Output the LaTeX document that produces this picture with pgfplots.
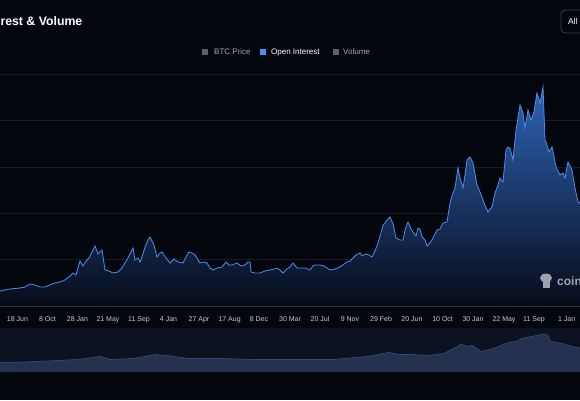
\documentclass[border=0pt]{standalone}
\usepackage{pgfplots}
\pgfplotsset{compat=1.18}
\usepackage{pgfplotstable}
\usepackage{fontspec}
\setmainfont{Liberation Sans}
\definecolor{bgc}{HTML}{04060D}
\definecolor{navbg}{HTML}{0D1220}
\definecolor{gridc}{HTML}{161B27}
\definecolor{axlc}{HTML}{2A2F3B}
\definecolor{linec}{HTML}{4A8FF0}
\definecolor{filltop}{HTML}{2E64B6}
\definecolor{fillbot}{HTML}{060B19}
\definecolor{navfill}{HTML}{24314F}
\definecolor{navline}{HTML}{3A4C74}
\definecolor{tickc}{HTML}{C5CAD3}
\definecolor{legg}{HTML}{5B606B}
\definecolor{legt}{HTML}{A3A9B3}
\definecolor{btn}{HTML}{3A3F4B}
\definecolor{wm}{HTML}{9EA3AD}

\pgfplotstableread{
x y
0 15
5 16
10 17
15 17.5
20 18
25 19
30 22
35 21
40 19
45 19
50 21
55 23
60 24
65 26
70 30
73 33
76 31
78 38
80 45
83 40
86 45
89 48
92 54
95 60
98 52
102 56
105 36
109 35
113 33
118 34
122 38
125 43
129 50
133 58
135 46
138 48
140 44
143 52
145 59
148 66
150 69
152 65
154 61
157 49
160 53
162 54
166 48
170 43
174 47
178 44
183 43
186 49
189 54
192 53
195 51
200 43
204 44
207 43
210 38
213 36
217 38
222 39
226 44
229 41
232 41
237 43
241 40
245 41
248 44
250 44
251 34
255 33
260 33
265 35
270 36
274 37
277 38
280 36
283 33
287 37
290 39
293 43
297 38
301 38
305 38
310 36
313 40
315 41
320 41
324 40
327 38
330 36
335 37
340 39
344 42
347 44
350 45
353 48
356 51
358 52
360 53
362 50
366 52
369 51
372 49
375 55
378 63
381 73
383 81
385 83
387 86
390 89
393 82
396 68
400 66
403 66
405 76
408 84
411 77
413 74
416 70
418 78
420 77
422 69
425 66
427 60
430 63
433 68
437 76
440 77
443 83
447 84
450 103
452 110
455 118
458 138
460 128
463 118
465 131
467 146
470 149
473 143
477 121
480 114
484 103
488 94
492 99
495 113
498 121
500 128
503 124
506 156
508 159
510 158
513 146
516 176
518 188
520 201
523 193
525 178
528 196
531 186
534 194
537 213
540 203
543 219
545 166
546 164
549 154
552 159
556 139
560 131
563 133
565 128
568 144
572 136
575 118
578 104
580 103
}\maindata

% navigator series, in the same units (band from -66 to -22)
\pgfplotstableread{
x y
0 -56.7
33 -55.6
78 -53.5
100 -50.5
111 -53.5
133 -52.5
156 -48.5
167 -49.5
189 -52.5
222 -52.5
256 -53.5
300 -53.5
333 -53.5
367 -50.5
389 -46.5
400 -48.5
411 -48.5
428 -49.5
444 -47.5
456 -41.3
461 -38.3
467 -40.3
472 -39.3
481 -45.5
494 -42.4
506 -37.3
517 -35.2
522 -32.2
533 -30.2
544 -28.1
548 -29.2
550 -35.2
561 -37.3
572 -40.3
580 -42.4
}\navdata

\pgfplotstableread{
x y
0 -66
0 -56.7
33 -55.6
78 -53.5
100 -50.5
111 -53.5
133 -52.5
156 -48.5
167 -49.5
189 -52.5
222 -52.5
256 -53.5
300 -53.5
333 -53.5
367 -50.5
389 -46.5
400 -48.5
411 -48.5
428 -49.5
444 -47.5
456 -41.3
461 -38.3
467 -40.3
472 -39.3
481 -45.5
494 -42.4
506 -37.3
517 -35.2
522 -32.2
533 -30.2
544 -28.1
548 -29.2
550 -35.2
561 -37.3
572 -40.3
580 -42.4
580 -66
}\navarea

\begin{document}
\begin{tikzpicture}[x=1pt,y=1pt]
\useasboundingbox (0,0) rectangle (580,400);
\fill[bgc] (0,0) rectangle (580,400);
\fill[navbg] (0,28) rectangle (580,72);
% title
\node[anchor=base east, text=white, font=\fontsize{12.3}{14}\selectfont\bfseries, inner sep=0] at (82.5,374) {Open Interest \& Volume};
% All button
\draw[btn, rounded corners=4, line width=0.8] (561,367) rectangle (605,390);
\node[anchor=base west, inner sep=0, text=white, font=\fontsize{8.5}{10}\selectfont] at (568,375) {All};
% legend
\fill[legg] (202,345) rectangle (208,351);
\node[anchor=base west, inner sep=0, text=legt, font=\fontsize{8}{9}\selectfont] at (214,345) {BTC Price};
\fill[linec] (260,345) rectangle (266,351);
\node[anchor=base west, inner sep=0, text=white, font=\fontsize{8}{9}\selectfont] at (271,345) {Open Interest};
\fill[legg] (333,345) rectangle (339,351);
\node[anchor=base west, inner sep=0, text=legt, font=\fontsize{8}{9}\selectfont] at (343,345) {Volume};

\begin{axis}[at={(0,94)}, anchor=south west, scale only axis,
  width=580pt, height=232pt,
  xmin=0, xmax=580, ymin=0, ymax=232, clip=false,
  axis line style={draw=none},
  ytick={46.4,92.8,139.2,185.6,232}, yticklabels={},
  ymajorgrids, grid style={gridc, line width=0.6pt},
  major tick length=0pt,
  xtick={17.4,47.4,77.4,108,139,168.5,199,229.6,259,290,320,350,381,412,442.6,473,504,534,566.7},
  xticklabels={18 Jun,8 Oct,28 Jan,21 May,11 Sep,4 Jan,27 Apr,17 Aug,8 Dec,30 Mar,20 Jul,9 Nov,29 Feb,20 Jun,10 Oct,30 Jan,22 May,11 Sep,1 Jan},
  xticklabel style={text=tickc, font=\fontsize{7}{8}\selectfont, inner sep=0pt, yshift=-10pt},
]
\addplot[draw=none, top color=filltop, bottom color=fillbot] table[x=x,y=y] {\maindata} \closedcycle;
\addplot[color=linec, line width=0.8pt] table[x=x,y=y] {\maindata};
\draw[axlc, line width=0.8pt] (axis cs:0,0) -- (axis cs:580,0);
\addplot[fill=navfill, draw=none] table[x=x,y=y] {\navarea};
\addplot[color=navline, line width=0.6pt] table[x=x,y=y] {\navdata};
\end{axis}

% watermark
\fill[wm] (546,122) ellipse (6 and 4.5);
\fill[wm] (542.5,112) rectangle (549.5,121);
\node[anchor=base west, inner sep=0, text=wm, font=\fontsize{12}{14}\selectfont\bfseries] at (557,115) {coinglass};
\end{tikzpicture}
\end{document}
